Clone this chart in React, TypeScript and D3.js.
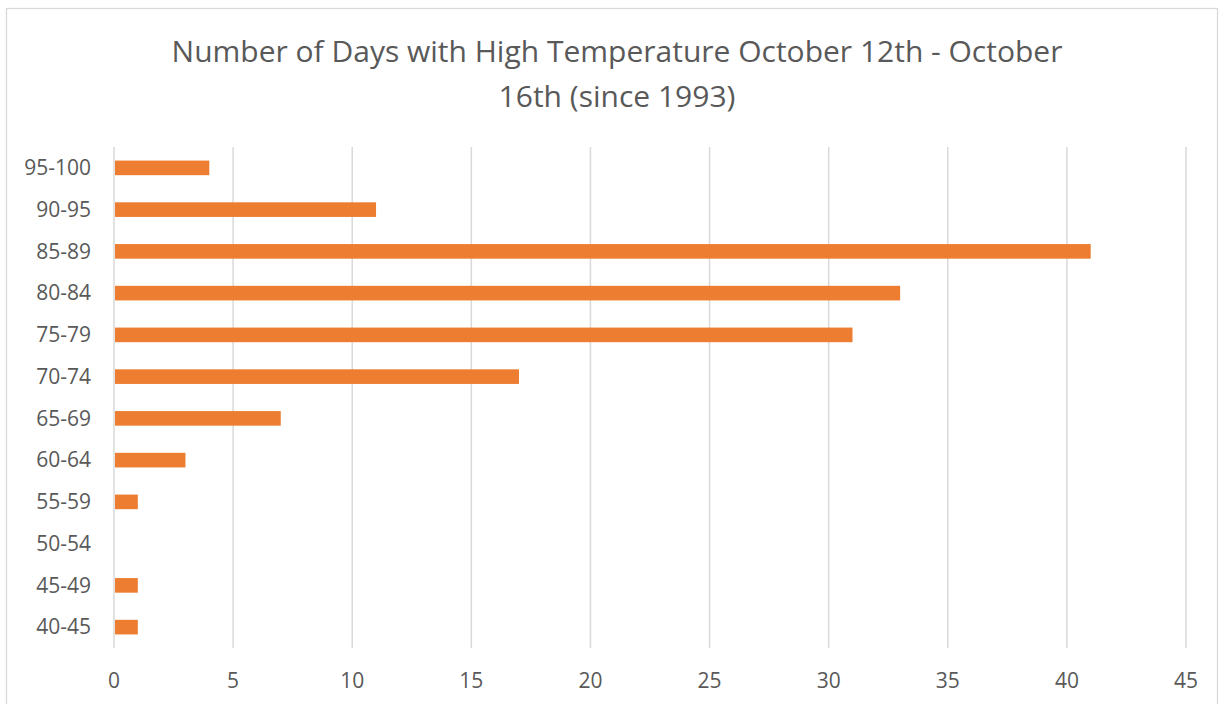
import React from "react";
import * as d3 from "d3";

const categories = ["95-100", "90-95", "85-89", "80-84", "75-79", "70-74", "65-69", "60-64", "55-59", "50-54", "45-49", "40-45"];
const days = [4, 11, 41, 33, 31, 17, 7, 3, 1, 0, 1, 1];
const xTicks = [0, 5, 10, 15, 20, 25, 30, 35, 40, 45];
const titleLines = ["Number of Days with High Temperature October 12th - October", "16th (since 1993)"];

const W = 1219;
const H = 704;
const font = "'Open Sans', 'Noto Sans', sans-serif";
const textColor = "#595959";

const App = () => {
  const x = d3.scaleLinear().domain([0, 45]).range([114, 1186]);
  const y = d3.scaleBand().domain(categories).range([147, 648]).paddingInner(0.65).paddingOuter(0.325);

  return (
    <svg width={W} height={H} style={{ position: "absolute", left: 0, top: 0 }}>
      <rect x={0} y={0} width={W} height={H} fill="#fff" />
      <rect x={6.5} y={8.5} width={1211} height={710} fill="#fff" stroke="#d9d9d9" strokeWidth={1.3} />
      {titleLines.map((t, i) => (
        <text key={t} x={617} y={62 + i * 45} textAnchor="middle" fontFamily={font} fontSize={30} fill={textColor}>
          {t}
        </text>
      ))}
      {xTicks.map(t => (
        <g key={t}>
          <line x1={x(t)} x2={x(t)} y1={147} y2={648} stroke="#d9d9d9" strokeWidth={1.5} />
          <text x={x(t)} y={688} textAnchor="middle" fontFamily={font} fontSize={21} fill={textColor}>
            {t}
          </text>
        </g>
      ))}
      {categories.map((c, i) => (
        <g key={c}>
          {days[i] > 0 && (
            <rect x={x(0) + 1} y={y(c)} width={x(days[i]) - x(0) - 1} height={y.bandwidth()} fill="#ED7D31" />
          )}
          <text x={91} y={(y(c) ?? 0) + y.bandwidth() / 2} dy="0.35em" textAnchor="end" fontFamily={font} fontSize={21} fill={textColor}>
            {c}
          </text>
        </g>
      ))}
    </svg>
  );
};

export default App;
